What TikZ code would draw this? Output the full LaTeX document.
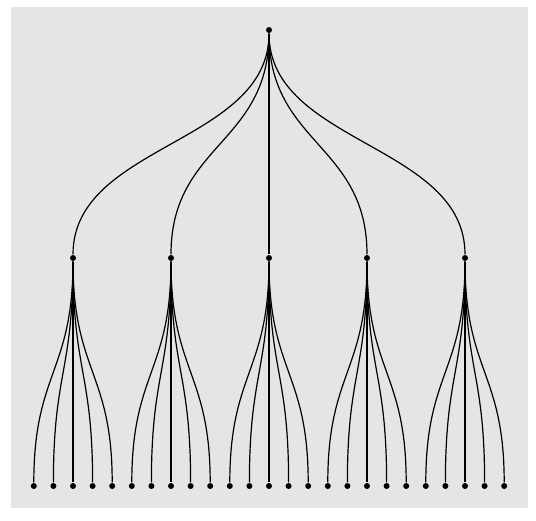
\documentclass[tikz,border=0pt]{standalone}
\definecolor{bgcol}{RGB}{229,229,229}
\begin{document}
\begin{tikzpicture}[x=1pt,y=-1pt,line width=1.2pt,
        dot/.style={circle,fill=black,inner sep=0pt,minimum size=6pt}]
    \useasboundingbox (0,0) rectangle (536,520);
    \fill[bgcol] (11,7) rectangle (528,508);

    % root
    \node[dot] (r) at (269,30) {};

    % children and leaves
    \foreach \i in {1,...,5} {
            \node[dot] (c\i) at ({73+98*(\i-1)},258) {};
            \draw (r) .. controls +(0,114) and +(0,-114) .. (c\i);
            \foreach \j in {1,...,5} {
                    \node[dot] (l\i\j) at ({73+98*(\i-1)+19.6*(\j-3)},486) {};
                    \draw (c\i) .. controls +(0,114) and +(0,-114) .. (l\i\j);
                }
        }
\end{tikzpicture}
\end{document}
